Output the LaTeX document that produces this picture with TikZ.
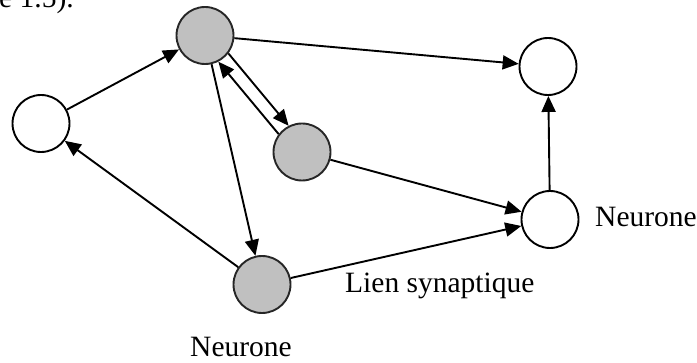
\documentclass[tikz,border=0pt]{standalone}
\usepackage{fontspec}
\setmainfont{Liberation Serif}
\usetikzlibrary{arrows.meta,calc}
\definecolor{somagray}{HTML}{C0C0C0}
\begin{document}
\begin{tikzpicture}[x=1pt,y=-1pt,
  neuron/.style={circle,draw=black,line width=1.9pt,minimum size=57pt,inner sep=0pt,fill=white},
  soma/.style={neuron,draw=black!85,fill=somagray},
  link/.style={line width=1.9pt,-{Triangle[length=16pt,width=14pt]}},
  lbl/.style={font=\fontsize{29.5}{34}\selectfont,inner sep=0pt}]
\useasboundingbox (0,0) rectangle (697,363);
\clip (0,0) rectangle (697,363);

% neurons
\node[neuron] (A) at (41,123.5) {};
\node[soma]   (B) at (205,35.5) {};
\node[soma]   (C) at (302,152) {};
\node[neuron] (D) at (548,66.5) {};
\node[neuron] (E) at (550,219.5) {};
\node[soma]   (F) at (262,284.5) {};

% labels
\node[lbl,anchor=base west] (capt)   at (-1,8)    {e 1.5).};
\node[lbl,anchor=base west] (lblE)   at (595,227) {Neurone};
\node[lbl,anchor=base west] (lblLnk) at (345,293) {Lien synaptique};
\node[lbl,anchor=base]      (lblF)   at (241,357) {Neurone};

% synaptic links
\draw[link] (A) -- (B);
\draw[link] (F) -- (A);
\draw[link] (B) -- (D);
\draw[link] (B) -- (F);
\draw[link] (C) -- (E);
\draw[link] (F) -- (E);
\draw[link] (E) -- (D);

% pair of opposite links between B and C
\coordinate (bcB) at ($(B.center)!6.5pt!90:(C.center)$);
\coordinate (bcC) at ($(C.center)!6.5pt!-90:(B.center)$);
\coordinate (cbB) at ($(B.center)!6.5pt!-90:(C.center)$);
\coordinate (cbC) at ($(C.center)!6.5pt!90:(B.center)$);
\draw[link,shorten <=28.7pt,shorten >=28.7pt] (bcB) -- (bcC);
\draw[link,shorten <=28.7pt,shorten >=28.7pt] (cbC) -- (cbB);
\end{tikzpicture}
\end{document}
